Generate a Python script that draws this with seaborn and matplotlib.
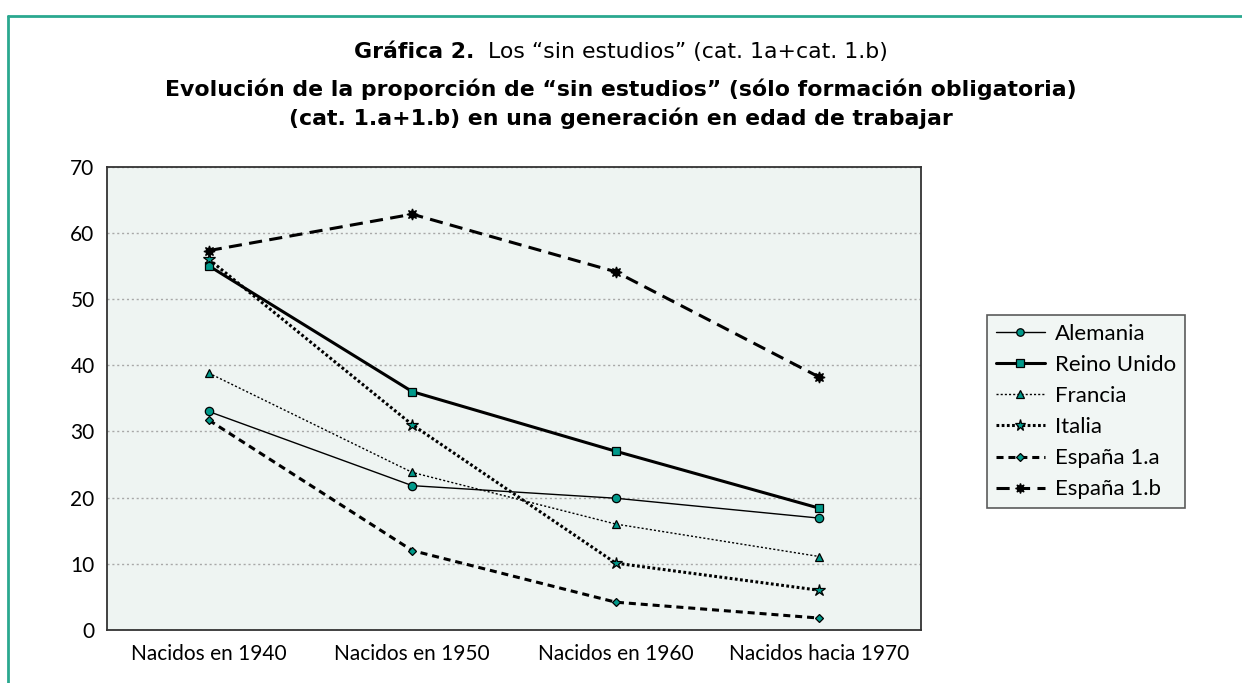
import numpy as np
import matplotlib
matplotlib.use("Agg")
import matplotlib.pyplot as plt
import matplotlib.lines as mlines
import seaborn as sns

# datos
categorias = ["Nacidos en 1940", "Nacidos en 1950", "Nacidos en 1960", "Nacidos hacia 1970"]
alemania = [33.0, 21.8, 19.9, 16.9]
reino_unido = [55.0, 36.0, 27.0, 18.4]
francia = [38.8, 23.8, 16.0, 11.1]
italia = [56.0, 31.0, 10.1, 6.0]
espana_1a = [31.7, 12.0, 4.2, 1.8]
espana_1b = [57.3, 62.8, 54.1, 38.2]

teal = "#00998a"
fondo = "#eef4f2"

sns.set_theme(style="white")
plt.rcParams["font.family"] = ["Lato", "DejaVu Sans"]
plt.rcParams["text.color"] = "black"
plt.rcParams["xtick.color"] = "black"
plt.rcParams["ytick.color"] = "black"

fig = plt.figure(figsize=(12.42, 6.83), dpi=100)
ax = fig.add_axes([0.0862, 0.0776, 0.6553, 0.6786])
ax.set_facecolor(fondo)

x = np.arange(len(categorias))

series = [
    ("Alemania", alemania, dict(lw=1.0, ls="-", marker="o", ms=6)),
    ("Reino Unido", reino_unido, dict(lw=2.2, ls="-", marker="s", ms=6)),
    ("Francia", francia, dict(lw=1.0, ls=(0, (1.5, 1.5)), marker="^", ms=6)),
    ("Italia", italia, dict(lw=2.2, ls=(0, (0.9, 0.8)), marker="*", ms=9)),
    ("España 1.a", espana_1a, dict(lw=2.2, ls=(0, (2.3, 1.6)), marker="D", ms=4.5)),
    ("España 1.b", espana_1b, dict(lw=2.2, ls=(0, (4.3, 2.4)), marker=(8, 1, 0), ms=8)),
]

handles = []
for nombre, valores, st in series:
    face = "black" if nombre == "España 1.b" else teal
    sns.lineplot(x=x, y=valores, ax=ax, color="black", linewidth=st["lw"],
                 linestyle=st["ls"], marker=st["marker"], markersize=st["ms"],
                 markerfacecolor=face, markeredgecolor="black", markeredgewidth=0.9,
                 legend=False, zorder=3)
    handles.append(mlines.Line2D([], [], color="black", lw=st["lw"], ls=st["ls"],
                                 marker=st["marker"], ms=st["ms"] * 0.9,
                                 markerfacecolor=face, markeredgecolor="black",
                                 markeredgewidth=0.9, label=nombre))

ax.set_xlim(-0.5, len(categorias) - 0.5)
ax.set_ylim(0, 70)
ax.set_yticks(range(0, 71, 10))
ax.set_xticks(x)
ax.set_xticklabels(categorias, fontsize=15)
ax.set_xticks(np.arange(-0.5, len(categorias), 1.0), minor=True)
ax.tick_params(axis="x", which="major", length=0, pad=10)
ax.tick_params(axis="x", which="minor", length=5, width=1, color="#333333", direction="out")
ax.tick_params(axis="y", length=5, width=1, color="#333333", direction="out", labelsize=15, pad=4)
ax.yaxis.grid(True, color="#a8a8a8", ls=(0, (1.5, 2)), lw=1)
ax.set_axisbelow(True)
for s in ax.spines.values():
    s.set_color("#333333")
    s.set_linewidth(1.3)
ax.set_xlabel("")
ax.set_ylabel("")

leg = fig.legend(handles=handles, loc="upper left", bbox_to_anchor=(987 / 1242, 1 - 315 / 683),
                 bbox_transform=fig.transFigure, fontsize=16, frameon=True,
                 fancybox=False, handlelength=2.2, handletextpad=0.45,
                 labelspacing=0.5, borderpad=0.4, borderaxespad=0)
leg.get_frame().set_facecolor(fondo)
leg.get_frame().set_edgecolor("#333333")
leg.get_frame().set_linewidth(1.2)

# titulo
tam = 15.8
ft = ["DejaVu Sans"]
t1 = fig.text(0.5, 1 - 58 / 683, "Gráfica 2.", ha="left", va="baseline", fontsize=tam,
              fontweight="bold", family=ft)
t2 = fig.text(0.5, 1 - 58 / 683, "  Los “sin estudios” (cat. 1a+cat. 1.b)", ha="left",
              va="baseline", fontsize=tam, family=ft)
fig.text(0.5, 1 - 96 / 683, "Evolución de la proporción de “sin estudios” (sólo formación obligatoria)",
         ha="center", va="baseline", fontsize=tam, fontweight="bold", family=ft)
fig.text(0.5, 1 - 125 / 683, "(cat. 1.a+1.b) en una generación en edad de trabajar",
         ha="center", va="baseline", fontsize=tam, fontweight="bold", family=ft)

fig.canvas.draw()
r = fig.canvas.get_renderer()
w1 = t1.get_window_extent(r).width / fig.bbox.width
w2 = t2.get_window_extent(r).width / fig.bbox.width
x0 = 0.5 - (w1 + w2) / 2
t1.set_x(x0)
t2.set_x(x0 + w1)

# marco verde superior e izquierdo
marco = "#2aa88f"
fig.add_artist(mlines.Line2D([0.0062, 1.0], [1 - 15.5 / 683, 1 - 15.5 / 683],
                             transform=fig.transFigure, color=marco, lw=2))
fig.add_artist(mlines.Line2D([0.0062, 0.0062], [0.0, 1 - 15.5 / 683],
                             transform=fig.transFigure, color=marco, lw=2))

fig.savefig("out.png", dpi=100, facecolor="white")
